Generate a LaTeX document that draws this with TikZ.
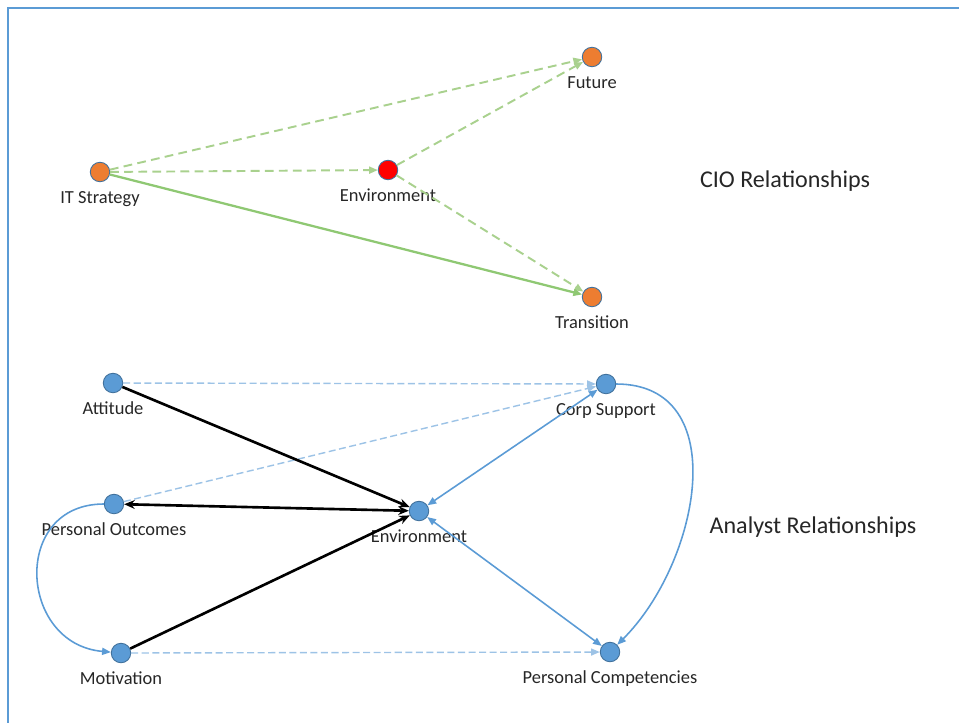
\documentclass[tikz,border=0pt]{standalone}
\usepackage{fontspec}
\setmainfont{Carlito}
\usetikzlibrary{arrows.meta}

\definecolor{frameblue}{HTML}{5B9BD5}
\definecolor{rimblue}{HTML}{41719C}
\definecolor{dotblue}{HTML}{5B9BD5}
\definecolor{dotorange}{HTML}{ED7D31}
\definecolor{dashgreen}{HTML}{A9D18E}
\definecolor{solidgreen}{HTML}{8FC873}
\definecolor{dashblue}{HTML}{9DC3E6}
\definecolor{labgray}{HTML}{262626}

\begin{document}
\begin{tikzpicture}[x=0.02cm, y=-0.02cm,
    dot/.style={circle, draw=rimblue, line width=0.5pt, minimum size=0.39cm, inner sep=0pt},
    lab/.style={font=\fontsize{10.5}{12}\selectfont, text=labgray, inner sep=0pt,
        text height=1.6ex, text depth=0.4ex, label distance=0.16cm},
    title/.style={font=\fontsize{13.7}{16}\selectfont, text=labgray, inner sep=0pt},
    tip/.style={-{Triangle[length=5pt, width=4pt]}},
    greendash/.style={tip, draw=dashgreen, line width=1.1pt, dash pattern=on 5pt off 3pt},
    greenline/.style={tip, draw=solidgreen, line width=1.3pt},
    bluedash/.style={tip, draw=dashblue, line width=0.8pt, dash pattern=on 4pt off 2pt},
    blueline/.style={tip, draw=dotblue, line width=0.9pt},
    blackline/.style={draw=black, line width=1.5pt}]
    \useasboundingbox (0,0) rectangle (959,723);
    \draw [frameblue, line width=1.2pt] (959,8) -- (8,8) -- (8,723);

    % CIO part
    \node [dot, fill=dotorange, label={[lab]below:IT Strategy}] (itstrat) at (100,172) {};
    \node [dot, fill=red, label={[lab]below:Environment}] (cioenv) at (388,170) {};
    \node [dot, fill=dotorange, label={[lab]below:Future}] (future) at (592,57) {};
    \node [dot, fill=dotorange, label={[lab]below:Transition}] (trans) at (592,297) {};
    \node [title] (ciotitle) at (785,181) {CIO Relationships};

    \draw [greendash] (itstrat) -- (future);
    \draw [greendash] (itstrat) -- (cioenv);
    \draw [greendash] (cioenv) -- (future);
    \draw [greendash] (cioenv) -- (trans);
    \draw [greenline] (itstrat) -- (trans);

    % Analyst part
    \node [dot, fill=dotblue, label={[lab]below:Attitude}] (attitude) at (113,383) {};
    \node [dot, fill=dotblue, label={[lab]below:Corp Support}] (corp) at (606,384) {};
    \node [dot, fill=dotblue, label={[lab]below:Personal Outcomes}] (outcomes) at (114,504) {};
    \node [dot, fill=dotblue, label={[lab]below:Environment}] (anaenv) at (419,511) {};
    \node [dot, fill=dotblue, label={[lab]below:Motivation}] (motiv) at (121,653) {};
    \node [dot, fill=dotblue, label={[lab]below:Personal Competencies}] (compet) at (610,652) {};
    \node [title] (anatitle) at (813,527) {Analyst Relationships};

    \draw [bluedash] (attitude) -- (corp);
    \draw [bluedash] (outcomes) -- (corp);
    \draw [bluedash] (motiv) -- (compet);
    \draw [blueline, {Triangle[length=5pt, width=4pt]}-{Triangle[length=5pt, width=4pt]}] (corp) -- (anaenv);
    \draw [blueline, {Triangle[length=5pt, width=4pt]}-{Triangle[length=5pt, width=4pt]}] (anaenv) -- (compet);
    \draw [blueline] (outcomes) to [out=180, in=175, looseness=1.6] (motiv);
    \draw [blueline] (corp) to [out=0, in=45, looseness=1.15] (compet);
    \draw [blackline, -{Stealth[length=6pt, width=5pt]}] (attitude) -- (anaenv);
    \draw [blackline, {Stealth[length=6pt, width=5pt]}-{Stealth[length=6pt, width=5pt]}] (outcomes) -- (anaenv);
    \draw [blackline, -{Stealth[length=6pt, width=5pt]}] (motiv) -- (anaenv);
\end{tikzpicture}
\end{document}
